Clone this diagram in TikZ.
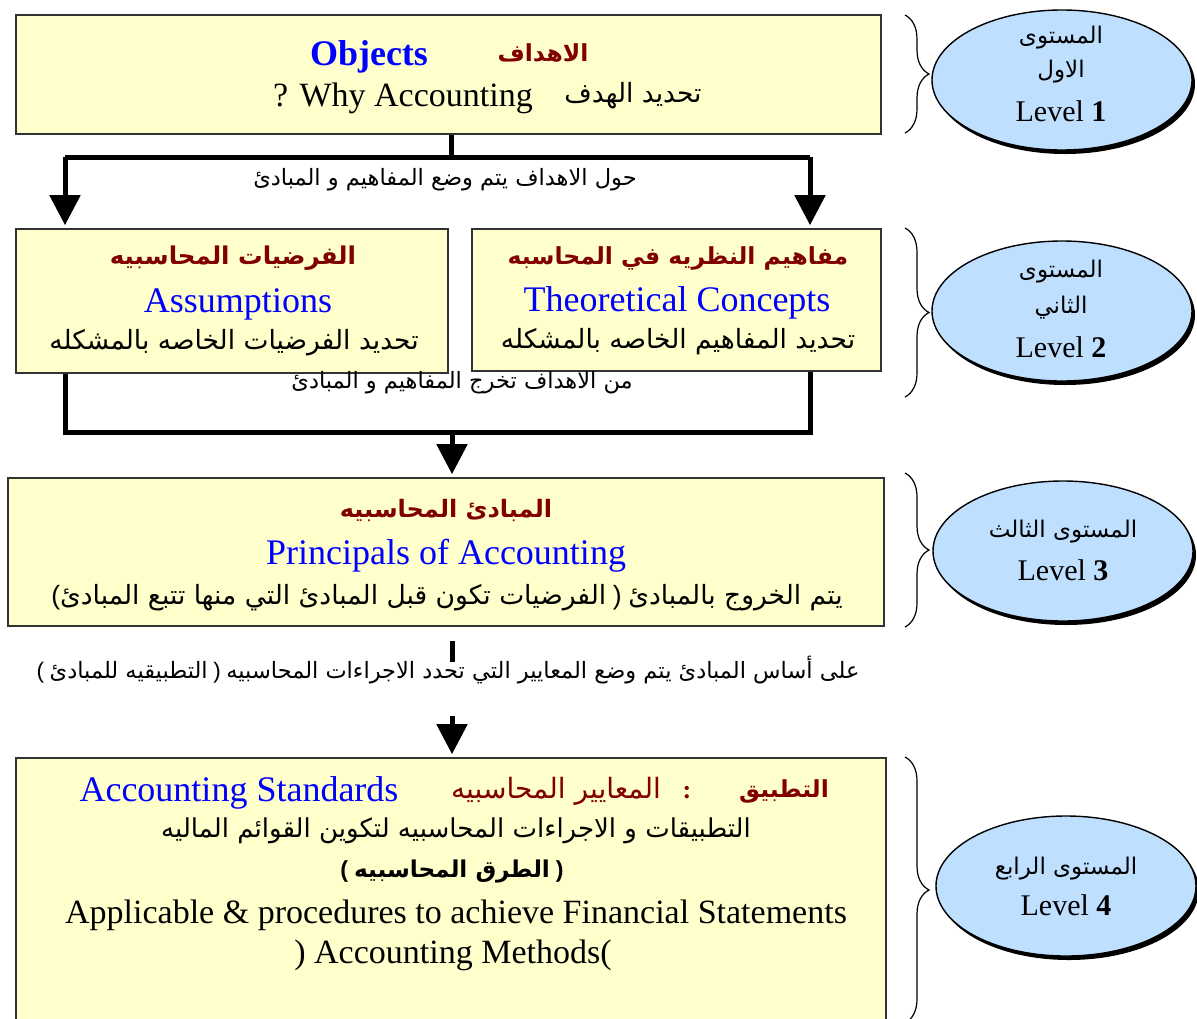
\documentclass[tikz,border=0pt]{standalone}
\usepackage{fontspec}
\setmainfont{Liberation Serif}
\newfontfamily\arabicfont[Script=Arabic]{DejaVu Sans}
\newfontfamily\parfont{Liberation Sans}
\TeXXeTstate=1
\usetikzlibrary{arrows.meta,decorations.pathreplacing,shadows,shapes.geometric}
\definecolor{paper}{HTML}{FFFFCC}
\definecolor{lvlblue}{HTML}{BFDFFF}
\definecolor{headred}{HTML}{800000}
\definecolor{engblue}{HTML}{0000FF}
% right-to-left Arabic run
\newcommand\ar[1]{{\arabicfont\beginR #1\endR}}
% a bracket set as it stands on the line, left to right
\newcommand\br[1]{{\parfont #1}}
\newcommand\fs[1]{\fontsize{#1}{1.2\dimexpr#1pt\relax}\selectfont}
\tikzset{
  box/.style={draw=black!80, line width=1.6pt, fill=paper, inner sep=0pt},
  lvl/.style={ellipse, draw=black, line width=1.4pt, fill=lvlblue,
    minimum width=260pt, minimum height=140pt, inner sep=0pt,
    drop shadow={shadow xshift=3pt, shadow yshift=-4pt, fill=black, opacity=1}},
  flow/.style={line width=5pt},
  flowarrow/.style={line width=5pt, -{Triangle[length=30pt,width=30pt]}, shorten >=3pt},
  brc/.style={decorate, decoration={brace, amplitude=24pt}, line width=1.2pt},
  txt/.style={inner sep=0pt, anchor=center},
  head/.style={txt, text=headred, font=\fs{24}\bfseries},
  eng/.style={txt, text=engblue, font=\fs{36}},
  body/.style={txt, font=\fs{26.5}},
  note/.style={txt, font=\fs{22.5}},
  lvtxt/.style={txt, font=\fs{23}},
  lvnum/.style={txt, font=\fs{30}},
}
\begin{document}
\begin{tikzpicture}[x=1pt,y=-1pt]
\useasboundingbox (0,0) rectangle (1197,1018);

% ---- level 1: objectives
\node[box, minimum width=865pt, minimum height=119pt] (goal) at (448.5,74.5) {};
\node[txt, text=engblue, font=\fs{36}\bfseries] (goalen) at (369,57) {Objects};
\node[head, font=\fs{23.5}\bfseries] (goalar) at (543,53) {\ar{الاهداف}};
\node[txt, font=\fs{34}] (why) at (403,98) {? Why Accounting};
\node[body, font=\fs{26.5}] (whyar) at (633,96) {\ar{تحديد الهدف}};

% ---- level 2: assumptions and concepts
\node[box, minimum width=432pt, minimum height=144pt] (assump) at (232,301) {};
\node[head, font=\fs{24.5}\bfseries] (assumpar) at (233,258) {\ar{الفرضيات المحاسبيه}};
\node[eng] (assumpen) at (238,304) {Assumptions};
\node[body] (assumpdef) at (234,343) {\ar{تحديد الفرضيات الخاصه بالمشكله}};

\node[box, minimum width=409pt, minimum height=142pt] (concepts) at (676.5,300) {};
\node[head, font=\fs{23.5}\bfseries] (conceptsar) at (678,258) {\ar{مفاهيم النظريه في المحاسبه}};
\node[eng] (conceptsen) at (677,303) {Theoretical Concepts};
\node[body] (conceptsdef) at (678,342) {\ar{تحديد المفاهيم الخاصه بالمشكله}};

% ---- level 3: principles
\node[box, minimum width=876pt, minimum height=148pt] (princ) at (446,552) {};
\node[head] (princar) at (446,510) {\ar{المبادئ المحاسبيه}};
\node[eng] (princen) at (446,556) {Principals of Accounting};
\node[body] (princdef) at (447,598) {\br{(}\ar{الفرضيات تكون قبل المبادئ التي منها تتبع المبادئ} \br{)} \ar{يتم الخروج بالمبادئ}};

% ---- level 4: standards
\node[box, minimum width=870pt, minimum height=272pt] (stand) at (451,894) {};
\node[head, font=\fs{23.5}\bfseries] (applyar) at (784,791) {\ar{التطبيق}};
\node[head, font=\fs{26}\bfseries] (colon) at (687,793) {:};
\node[txt, text=headred, font=\fs{28}] (standar) at (556,791) {\ar{المعايير المحاسبيه}};
\node[eng] (standen) at (239,793) {Accounting Standards};
\node[body, font=\fs{26}] (standdef) at (456,831) {\ar{التطبيقات و الاجراءات المحاسبيه لتكوين القوائم الماليه}};
\node[txt, font=\fs{23.2}\bfseries] (methar) at (452,872) {\br{(} \ar{الطرق المحاسبيه} \br{)}};
\node[txt, font=\fs{34}] (applyen) at (456,915) {Applicable \& procedures to achieve Financial Statements};
\node[txt, font=\fs{34}] (methen) at (453,955) {) Accounting Methods(};

% ---- connectors between the levels
\coordinate (b1) at (65,157);
\coordinate (b2) at (810,157);
\draw[flow] (goal.south -| 451,0) -- (451,157);
\draw[flow] (b1) -- (b2);
\draw[flowarrow] (b1) -- (b1 |- assump.north);
\draw[flowarrow] (b2) -- (b2 |- concepts.north);
\node[note] (lab1) at (445,180) {\ar{حول الاهداف يتم وضع المفاهيم و المبادئ}};

\coordinate (c1) at (65,432);
\coordinate (c2) at (810,432);
\coordinate (c3) at (452,432);
\draw[flow] (assump.south -| c1) -- (c1) -- (c2) -- (concepts.south -| c2);
\draw[flowarrow] (c3) -- (c3 |- princ.north);
\node[note] (lab2) at (462,383) {\ar{من الاهداف تخرج المفاهيم و المبادئ}};

\coordinate (d1) at (452,641);
\coordinate (d2) at (452,662);
\draw[flow] (d1) -- (d2);
\node[note] (lab3) at (448,670) {\br{(} \ar{التطبيقيه للمبادئ} \br{)} \ar{على أساس المبادئ يتم وضع المعايير التي تحدد الاجراءات المحاسبيه}};
\coordinate (e1) at (452,716);
\draw[flowarrow] (e1) -- (e1 |- stand.north);

% ---- level markers
\draw[brc] (905,15) -- (905,133);
\draw[brc] (905,228) -- (905,397);
\draw[brc] (905,473) -- (905,627);
\draw[brc] (905,757) -- (905,1023);

\node[lvl] (lv1) at (1062,80) {};
\node[lvtxt] (lv1a) at (1061,38) {\ar{المستوى}};
\node[lvtxt] (lv1b) at (1061,72) {\ar{الاول}};
\node[lvnum] (lv1c) at (1061,111) {Level \textbf{1}};

\node[lvl] (lv2) at (1062,311) {};
\node[lvtxt] (lv2a) at (1061,272) {\ar{المستوى}};
\node[lvtxt] (lv2b) at (1061,308) {\ar{الثاني}};
\node[lvnum] (lv2c) at (1061,347) {Level \textbf{2}};

\node[lvl] (lv3) at (1063,551) {};
\node[lvtxt] (lv3a) at (1063,532) {\ar{المستوى الثالث}};
\node[lvnum] (lv3b) at (1063,570) {Level \textbf{3}};

\node[lvl] (lv4) at (1066,886) {};
\node[lvtxt] (lv4a) at (1066,869) {\ar{المستوى الرابع}};
\node[lvnum] (lv4b) at (1066,905) {Level \textbf{4}};
\end{tikzpicture}
\end{document}
